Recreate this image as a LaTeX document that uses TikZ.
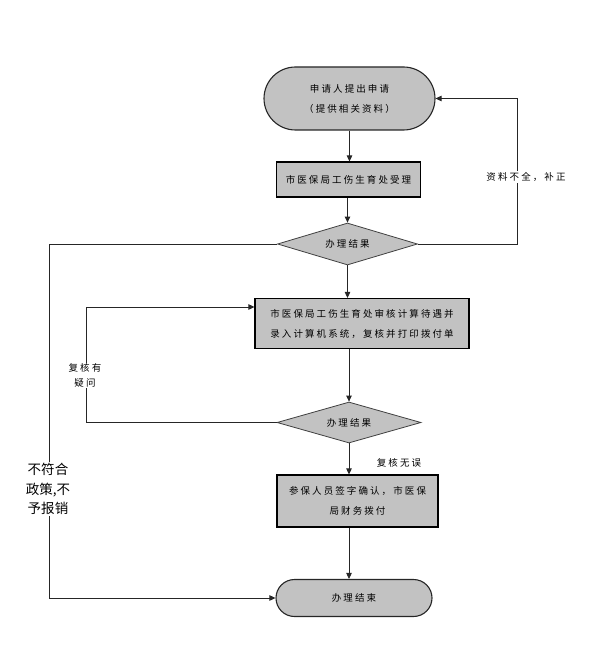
\documentclass[tikz,border=0pt]{standalone}
\usepackage{fontspec}
\newfontfamily\cjk[LetterSpace=22]{Noto Sans CJK SC}
\newfontfamily\cjkplain{Noto Sans CJK SC}
\usetikzlibrary{shapes.geometric,shapes.misc,arrows.meta}
\begin{document}
\begin{tikzpicture}[x=1pt,y=-1pt,
  boxtext/.style={font=\cjk\fontsize{9.5}{20}\selectfont, align=center, text=black},
  procbox/.style={draw=black, line width=1.1pt, fill=gray!48, rectangle, inner sep=0pt, boxtext},
  termbox/.style={draw=black!85, line width=1.1pt, fill=gray!48, rounded rectangle, inner sep=0pt, boxtext},
  decbox/.style={draw=black!75, line width=0.8pt, fill=gray!48, diamond, aspect=3.3, inner sep=0pt, boxtext},
  conn/.style={draw=black!85, line width=0.8pt},
  arr/.style={conn, -{Triangle[length=6pt,width=5.5pt]}},
  lbl/.style={font=\cjk\fontsize{9.5}{15}\selectfont, align=center, fill=white, inner sep=1pt},
  biglbl/.style={font=\cjkplain\fontsize{13.5}{19.5}\selectfont, align=center, fill=white, inner sep=1pt}
]
\useasboundingbox (0,0) rectangle (615,671);

\node[termbox, minimum width=171pt, minimum height=63pt] (start) at (349.5,98.5) {申请人提出申请\\（提供相关资料）};
\node[procbox, minimum width=144pt, minimum height=35pt] (b1) at (348.5,179.5) {市医保局工伤生育处受理};
\node[decbox, minimum width=140pt, minimum height=42pt] (d1) at (347.5,244) {办理结果};
\node[procbox, minimum width=214pt, minimum height=50pt] (b3) at (362,323.5) {市医保局工伤生育处审核计算待遇并\\录入计算机系统，复核并打印拨付单};
\node[decbox, minimum width=144pt, minimum height=41pt] (d2) at (349,422.5) {办理结果};
\node[procbox, minimum width=161pt, minimum height=52pt] (b4) at (357.5,501) {参保人员签字确认，市医保\\局财务拨付};
\node[termbox, minimum width=156pt, minimum height=37pt] (end) at (354,598) {办理结束};

% main flow
\draw[arr] (start.south) -- (start.south |- b1.north);
\draw[arr] (b1.south -| d1.north) -- (d1.north);
\draw[arr] (d1.south) -- (d1.south |- b3.north);
\draw[arr] (d2.north |- b3.south) -- (d2.north);
\draw[arr] (d2.south) -- (d2.south |- b4.north);
\draw[arr] (d2.south |- b4.south) -- (d2.south |- end.north);

% loops
\coordinate (rc) at (517,98.5);
\draw[arr] (d1.east) -| (rc) -- (start.east);
\coordinate (lc) at (49,598);
\draw[arr] (d1.west) -| (lc) -- (end.west);
\coordinate (qc) at (86,307);
\draw[arr] (d2.west) -| (qc) -- (qc -| b3.west);

% labels
\node[lbl] (l1) at (526,177) {资料不全，补正};
\node[lbl] (l2) at (85,375.5) {复核有\\疑问};
\node[font=\cjk\fontsize{9.5}{15}\selectfont] (l3) at (399,463) {复核无误};
\node[biglbl] (l4) at (48,489) {不符合\\政策,不\\予报销};
\end{tikzpicture}
\end{document}
